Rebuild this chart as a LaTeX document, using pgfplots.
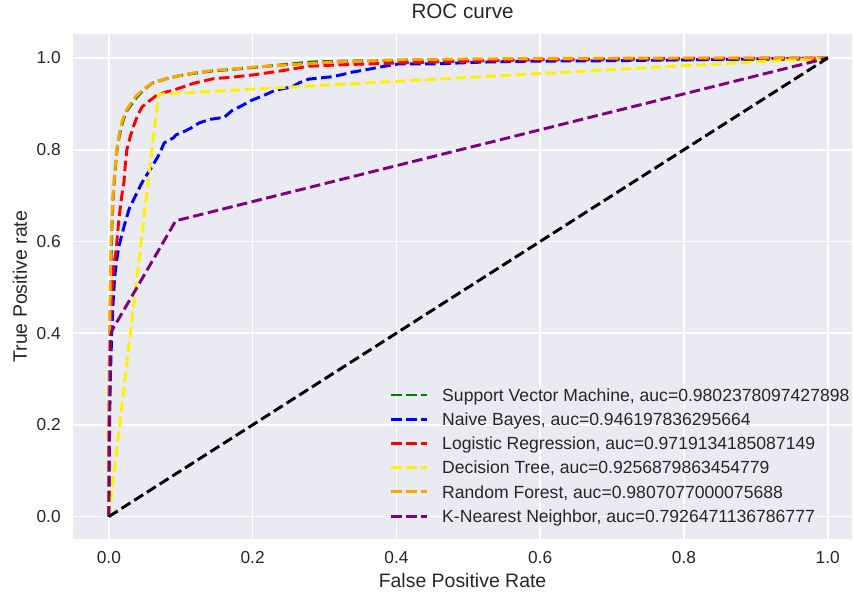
\documentclass[border=0pt]{standalone}
\usepackage{fontspec}
\setmainfont{Liberation Sans}
\usepackage{pgfplots}
\pgfplotsset{compat=1.18}

\definecolor{bgc}{HTML}{EAEAF2}
\definecolor{txt}{HTML}{262626}
\definecolor{mplgreen}{RGB}{0,128,0}
\definecolor{mplorange}{RGB}{255,165,0}
\definecolor{mplpurple}{RGB}{128,0,128}

\begin{document}
\begin{tikzpicture}
% page frame: 853x594 px at 0.75pt per px
\path (-54.75pt,-40.5pt) rectangle (585pt,405pt);
\begin{axis}[
  at={(0,0)}, anchor=south west,
  width=585pt, height=379.5pt, scale only axis,
  xmin=-0.05, xmax=1.034, ymin=-0.05, ymax=1.0524,
  axis background/.style={fill=bgc},
  axis line style={draw=none},
  xtick={0,0.2,0.4,0.6,0.8,1.0},
  ytick={0,0.2,0.4,0.6,0.8,1.0},
  major tick length=0pt,
  grid=major,
  major grid style={white, line width=1.2pt},
  /pgf/number format/fixed,
  /pgf/number format/fixed zerofill,
  /pgf/number format/precision=1,
  /pgf/number format/assume math mode=true,
  tick label style={font=\fontsize{13}{15}\selectfont, text=txt},
  xticklabel style={anchor=base, yshift=-18pt},
  yticklabel style={anchor=east, inner sep=0pt, xshift=-9pt},
  title={ROC curve},
  title style={at={(axis description cs:0.5,1.0148)}, anchor=base, inner sep=0pt,
    font=\fontsize{15.5}{18}\selectfont, text=txt},
  xlabel={False Positive Rate},
  ylabel={True Positive rate},
  every axis x label/.style={at={(axis description cs:0.5,-0.0949)}, anchor=base,
    inner sep=0pt, font=\fontsize{14.6}{17}\selectfont, text=txt},
  every axis y label/.style={at={(axis description cs:-0.059,0.5)}, rotate=90, anchor=base,
    inner sep=0pt, font=\fontsize{14.6}{17}\selectfont, text=txt},
  legend cell align=left,
  legend style={at={(axis description cs:0.4064,0.2988)}, anchor=north west,
    draw=none, fill=none, inner sep=0pt, row sep=8.8pt, column sep=10.5pt,
    font=\fontsize{13.2}{15}\selectfont, text=txt,
    nodes={inner sep=0pt, text height=9.4pt, text depth=0pt}},
  legend image code/.code={\draw[#1, line width=2.2pt, dash pattern=on 7.9pt off 3.4pt]
    (0pt,0pt) -- (26.6pt,0pt);},
  every axis plot/.append style={line width=2.2pt, dash pattern=on 7.9pt off 3.4pt},
]
% Support Vector Machine
\addplot[mplgreen] coordinates {
(0,0) (0.001,0.30) (0.002,0.45) (0.003,0.55) (0.004,0.62) (0.006,0.70)
(0.009,0.76) (0.012,0.81) (0.016,0.84) (0.020,0.865) (0.025,0.885) (0.032,0.90)
(0.039,0.915) (0.048,0.93) (0.060,0.945) (0.080,0.955) (0.100,0.962) (0.120,0.967)
(0.146,0.972) (0.170,0.975) (0.200,0.979) (0.240,0.985) (0.280,0.991) (0.320,0.993)
(0.400,0.995) (0.500,0.995) (0.600,0.996) (0.800,0.996) (0.950,0.997) (1,1)};
\addlegendentry{Support Vector Machine, auc=0.9802378097427898}
% Naive Bayes
\addplot[blue] coordinates {
(0,0) (0.000,0.15) (0.002,0.30) (0.004,0.40) (0.006,0.47) (0.008,0.52)
(0.011,0.56) (0.014,0.59) (0.021,0.632) (0.028,0.67) (0.039,0.706) (0.045,0.725)
(0.051,0.741) (0.058,0.758) (0.063,0.771) (0.070,0.790) (0.077,0.815) (0.090,0.826)
(0.093,0.832) (0.105,0.840) (0.114,0.847) (0.125,0.858) (0.140,0.866) (0.153,0.869)
(0.160,0.870) (0.171,0.885) (0.185,0.896) (0.199,0.908) (0.215,0.918) (0.232,0.930)
(0.255,0.937) (0.265,0.946) (0.278,0.954) (0.310,0.959) (0.325,0.964) (0.338,0.969)
(0.360,0.975) (0.376,0.980) (0.403,0.987) (0.450,0.987) (0.519,0.991) (0.584,0.993)
(0.700,0.994) (0.800,0.996) (0.900,0.998) (1,1)};
\addlegendentry{Naive Bayes, auc=0.946197836295664}
% Logistic Regression
\addplot[red] coordinates {
(0,0) (0.000,0.20) (0.001,0.30) (0.002,0.40) (0.004,0.48) (0.006,0.54)
(0.010,0.58) (0.014,0.65) (0.018,0.70) (0.021,0.73) (0.023,0.77) (0.025,0.80)
(0.030,0.83) (0.035,0.854) (0.040,0.875) (0.046,0.893) (0.055,0.905) (0.067,0.919)
(0.080,0.926) (0.090,0.930) (0.105,0.938) (0.118,0.945) (0.146,0.955) (0.170,0.958)
(0.200,0.963) (0.240,0.972) (0.278,0.982) (0.320,0.985) (0.400,0.989) (0.500,0.993)
(0.584,0.996) (0.700,0.998) (0.800,0.999) (1,1)};
\addlegendentry{Logistic Regression, auc=0.9719134185087149}
% Decision Tree
\addplot[yellow] coordinates {(0,0) (0.069,0.921) (1,1)};
\addlegendentry{Decision Tree, auc=0.9256879863454779}
% Random Forest
\addplot[mplorange] coordinates {
(0,0) (0.000,0.28) (0.001,0.40) (0.002,0.52) (0.003,0.60) (0.005,0.68)
(0.008,0.75) (0.011,0.80) (0.015,0.84) (0.019,0.865) (0.024,0.885) (0.030,0.90)
(0.038,0.917) (0.048,0.932) (0.060,0.945) (0.080,0.955) (0.100,0.962) (0.120,0.968)
(0.146,0.973) (0.170,0.976) (0.200,0.980) (0.240,0.984) (0.280,0.988) (0.320,0.992)
(0.400,0.996) (0.500,0.998) (0.600,0.999) (0.800,1.0) (1,1)};
\addlegendentry{Random Forest, auc=0.9807077000075688}
% K-Nearest Neighbor
\addplot[mplpurple] coordinates {(0,0) (0.002,0.39) (0.004,0.405) (0.093,0.645) (1,1)};
\addlegendentry{K-Nearest Neighbor, auc=0.7926471136786777}
% chance line
\addplot[black, forget plot] coordinates {(0,0) (1,1)};
\end{axis}
\end{tikzpicture}
\end{document}
